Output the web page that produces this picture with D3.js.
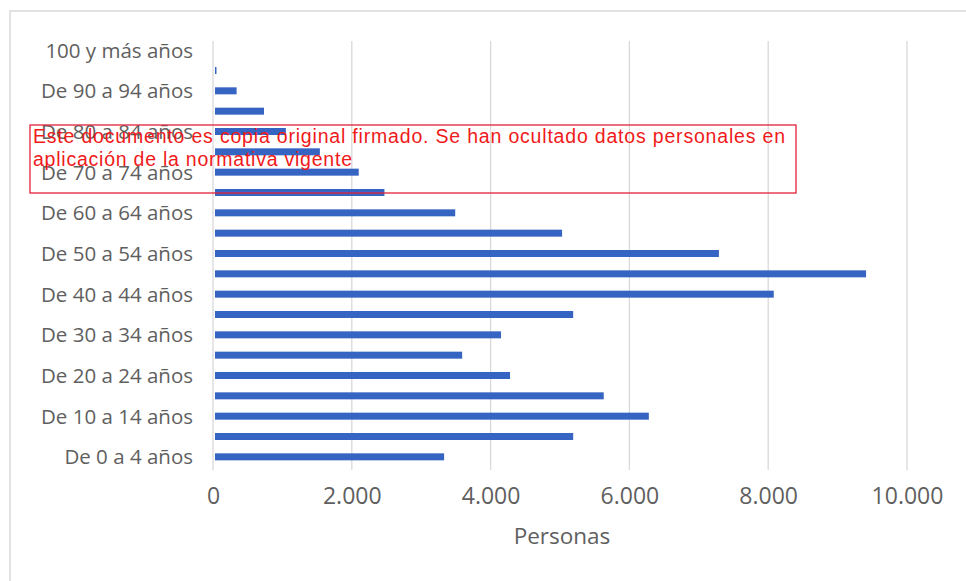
<!DOCTYPE html>
<html>
<head>
<meta charset="utf-8">
<script src="https://cdn.jsdelivr.net/npm/d3@7"></script>
<style>
  html, body { margin: 0; padding: 0; background: #fff; }
  svg { display: block; }
</style>
</head>
<body>
<svg id="chart" width="966" height="581"></svg>
<script>
// ---- Data ----
const categories = [
  "De 0 a 4 años", "De 5 a 9 años", "De 10 a 14 años", "De 15 a 19 años",
  "De 20 a 24 años", "De 25 a 29 años", "De 30 a 34 años", "De 35 a 39 años",
  "De 40 a 44 años", "De 45 a 49 años", "De 50 a 54 años", "De 55 a 59 años",
  "De 60 a 64 años", "De 65 a 69 años", "De 70 a 74 años", "De 75 a 79 años",
  "De 80 a 84 años", "De 85 a 89 años", "De 90 a 94 años", "De 95 a 99 años",
  "100 y más años"
];
const personas = [
  3330, 5190, 6280, 5630,
  4280, 3590, 4150, 5190,
  8080, 9410, 7290, 5030,
  3490, 2470, 2100, 1540,
  1050, 735, 340, 50,
  0
];
const tickValues = [0, 2000, 4000, 6000, 8000, 10000];
const tickLabels = ["0", "2.000", "4.000", "6.000", "8.000", "10.000"];
const axisTitle = "Personas";
const noticeLines = [
  "Este documento es copia original firmado. Se han ocultado datos personales en",
  "aplicación de la normativa vigente"
];

// ---- Drawing ----
const svg = d3.select("#chart");
const data = categories.map((c, i) => ({ cat: c, value: personas[i] }));

// outer chart frame
svg.append("rect")
  .attr("x", 10).attr("y", 11)
  .attr("width", 1000).attr("height", 1000)
  .attr("fill", "#fff")
  .attr("stroke", "#d9d9d9").attr("stroke-width", 1.5);

const x = d3.scaleLinear().domain([0, 10000]).range([213, 907]);
const y = d3.scaleBand()
  .domain(categories.slice().reverse())
  .range([40, 467])
  .paddingInner(0).paddingOuter(0);

const gridTop = 41, gridBottom = 470;

// vertical gridlines
svg.append("g")
  .selectAll("line")
  .data(tickValues)
  .join("line")
  .attr("x1", d => x(d)).attr("x2", d => x(d))
  .attr("y1", gridTop).attr("y2", gridBottom)
  .attr("stroke", "#d9d9d9").attr("stroke-width", 1.3);

// bars
const barH = 7;
svg.append("g")
  .selectAll("rect")
  .data(data)
  .join("rect")
  .attr("x", x(0) + 2)
  .attr("y", d => y(d.cat) + y.bandwidth() / 2 - barH / 2)
  .attr("width", d => Math.max(0, x(d.value) - x(0) - 2))
  .attr("height", barH)
  .attr("fill", "#3564c2");

// category labels (every other one)
svg.append("g")
  .selectAll("text")
  .data(data.filter((d, i) => i % 2 === 0))
  .join("text")
  .attr("x", 193)
  .attr("y", d => y(d.cat) + y.bandwidth() / 2)
  .attr("dy", "0.36em")
  .attr("text-anchor", "end")
  .attr("font-family", "'Open Sans', sans-serif")
  .attr("font-size", 20.5)
  .attr("fill", "#5f5f5f")
  .text(d => d.cat);

// x axis tick labels
const xAxis = d3.axisBottom(x)
  .tickValues(tickValues)
  .tickFormat((d, i) => tickLabels[i])
  .tickSize(0)
  .tickPadding(0);
const gx = svg.append("g")
  .attr("transform", "translate(0,487)")
  .call(xAxis);
gx.select(".domain").remove();
gx.selectAll("text")
  .attr("font-family", "'Open Sans', sans-serif")
  .attr("font-size", 23)
  .attr("fill", "#5f5f5f")
  .attr("dy", "0.72em");

// axis title
svg.append("text")
  .attr("x", 562).attr("y", 544)
  .attr("text-anchor", "middle")
  .attr("font-family", "'Open Sans', sans-serif")
  .attr("font-size", 22.5)
  .attr("fill", "#5f5f5f")
  .text(axisTitle);

// red notice overlay
svg.append("rect")
  .attr("x", 30).attr("y", 125)
  .attr("width", 766).attr("height", 68)
  .attr("fill", "none")
  .attr("stroke", "#e3223a").attr("stroke-width", 1.3);

const noticeWidths = [752, 319];
svg.append("g")
  .selectAll("text")
  .data(noticeLines)
  .join("text")
  .attr("x", 33)
  .attr("y", (d, i) => 143 + i * 23)
  .attr("font-family", "'Liberation Sans', Arial, sans-serif")
  .attr("font-size", 19.5)
  .attr("fill", "#f01a1a")
  .attr("textLength", (d, i) => noticeWidths[i])
  .attr("lengthAdjust", "spacing")
  .text(d => d);
</script>
</body>
</html>
